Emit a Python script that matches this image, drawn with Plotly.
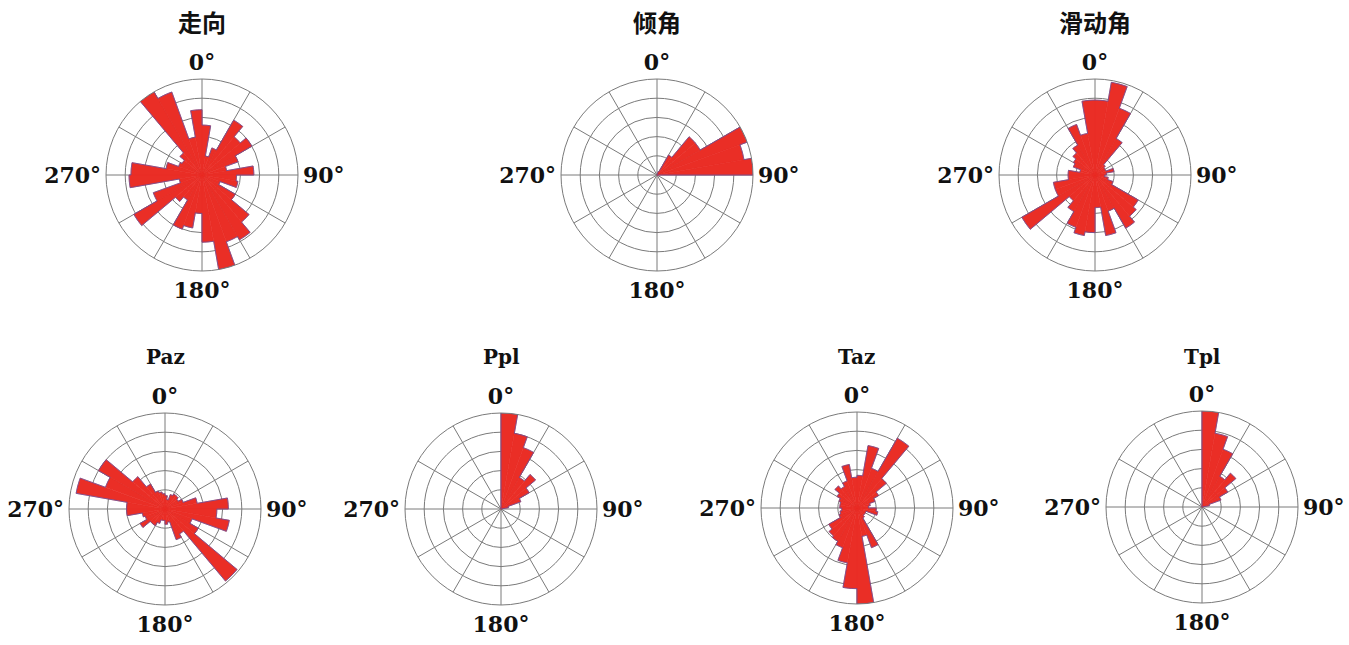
import plotly.graph_objects as go

W, H = 1349, 645

# 10-degree bins, 0-10 ... 350-360 (bin centres)
bin_centers = [5 + 10 * i for i in range(36)]
bin_width = 10

strike = [2.6, 1.0, 1.5, 3.3, 2.6, 3.0, 2.0, 1.3, 2.7, 1.8, 1.9, 1.0,
          2.0, 3.2, 3.9, 3.7, 5.0, 3.5, 2.0, 2.8, 3.0, 1.5, 1.8, 4.1,
          2.7, 1.2, 3.8, 3.7, 1.9, 1.3, 1.2, 1.5, 5.0, 4.6, 2.0, 3.4]
dip = [0, 0, 0.2, 1.2, 2.6, 2.6, 5.0, 4.6, 5.0] + [0] * 27
rake = [3.9, 4.9, 3.7, 2.2, 0.7, 0.6, 0.6, 1.0, 0.6, 0.5, 0.7, 1.0,
        2.6, 2.8, 3.2, 2.0, 3.2, 1.7, 3.0, 3.2, 2.9, 2.2, 1.75, 4.4,
        2.2, 2.2, 1.4, 1.4, 0.8, 1.2, 1.3, 1.5, 1.8, 2.8, 2.2, 3.9]
p_az = [0.7, 0.5, 0.8, 0.9, 0.9, 0.8, 1.0, 1.7, 3.3, 2.7, 3.4, 1.5,
        2.0, 4.9, 1.5, 1.7, 0.7, 0.8, 0.6, 0.6, 0.8, 1.0, 1.0, 1.5,
        1.1, 1.2, 2.0, 2.0, 4.7, 3.3, 4.0, 2.2, 1.5, 1.0, 0.9, 0.8]
p_pl = [5.0, 4.0, 3.4, 1.9, 2.35, 1.7, 1.1, 0.4] + [0] * 28
t_az = [1.7, 3.3, 2.2, 4.2, 2.0, 1.3, 1.0, 0.7, 0.6, 1.0, 1.1, 0.5,
        0.5, 0.5, 0.6, 2.2, 1.5, 5.0, 4.2, 2.9, 2.2, 2.0, 1.9, 1.7,
        1.0, 0.9, 0.8, 0.9, 0.9, 1.0, 1.2, 1.5, 1.3, 1.5, 2.3, 1.6]
t_pl = [5.0, 3.9, 3.2, 1.85, 2.3, 1.55, 1.05, 0.4] + [0] * 28

titles = ["走向", "倾角", "滑动角", "Paz", "Ppl", "Taz", "Tpl"]
series = [strike, dip, rake, p_az, p_pl, t_az, t_pl]

# pixel centres of each rose and its radius
centers = [(202, 175), (657, 175), (1095, 175),
           (165, 509), (501, 509), (857, 508), (1202, 507)]
R = 96
title_y = [21, 21, 21, 357, 357, 357, 357]

angle_vals = list(range(0, 360, 30))
angle_text = ["0°" if a == 0 else "90°" if a == 90 else
              "180°" if a == 180 else "270°" if a == 270 else ""
              for a in angle_vals]

FILL = "#EA2E26"
EDGE = "#6652a0"


def envelope(vals):
    """Outer outline of the rose: arcs along each bin top joined by radial steps."""
    rr, tt = [], []
    for c, v in zip(bin_centers, vals):
        start = c - bin_width / 2
        for k in range(6):
            tt.append(start + bin_width * k / 5)
            rr.append(v)
    rr.append(rr[0])
    tt.append(tt[0])
    return rr, tt


fig = go.Figure()
layout = dict(
    width=W, height=H, margin=dict(l=0, r=0, t=0, b=0),
    paper_bgcolor="white", plot_bgcolor="white", showlegend=False,
    annotations=[],
)

for i, (name, vals, (cx, cy)) in enumerate(zip(titles, series, centers)):
    key = "polar" if i == 0 else f"polar{i + 1}"
    fig.add_trace(go.Barpolar(
        r=vals, theta=bin_centers, width=[bin_width] * 36,
        marker=dict(color=FILL, line=dict(color=FILL, width=0.6)),
        subplot=key, hoverinfo="skip",
    ))
    er, et = envelope(vals)
    fig.add_trace(go.Scatterpolar(
        r=er, theta=et, mode="lines",
        line=dict(color=EDGE, width=0.8),
        subplot=key, hoverinfo="skip",
    ))
    layout[key] = dict(
        domain=dict(x=[(cx - R) / W, (cx + R) / W],
                    y=[(H - cy - R) / H, (H - cy + R) / H]),
        bgcolor="white",
        radialaxis=dict(range=[0, 5], tickvals=[1, 2, 3, 4, 5],
                        showticklabels=False, ticks="", showline=False,
                        gridcolor="#7a7a7a", gridwidth=0.8),
        angularaxis=dict(rotation=90, direction="clockwise",
                         tickvals=angle_vals, ticktext=angle_text, ticks="",
                         showline=True, linecolor="#7a7a7a", linewidth=1,
                         gridcolor="#7a7a7a", gridwidth=0.8,
                         tickfont=dict(family="DejaVu Serif", size=22,
                                       color="#111111", weight="bold")),
    )
    is_cjk = i < 3
    layout["annotations"].append(dict(
        x=cx / W, y=1 - title_y[i] / H, xref="paper", yref="paper",
        text=f"<b>{name}</b>", showarrow=False, xanchor="center", yanchor="middle",
        font=dict(family="Noto Sans CJK SC" if is_cjk else "DejaVu Serif",
                  size=24 if is_cjk else 20, color="#111111"),
    ))

fig.update_layout(**layout)
fig.write_html("out.html")
